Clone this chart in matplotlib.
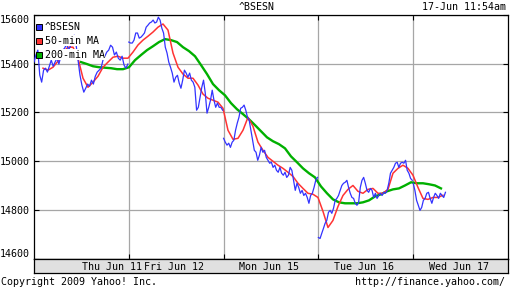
import numpy as np
import matplotlib
matplotlib.use('Agg')
import matplotlib.pyplot as plt
from matplotlib.patches import Rectangle

plt.rcParams['font.family'] = 'DejaVu Sans Mono'
plt.rcParams['font.size'] = 7.2

# trading days shown, x axis runs in "days" (0 = Thu open)
days = ["Thu Jun 11", "Fri Jun 12", "Mon Jun 15", "Tue Jun 16", "Wed Jun 17"]
day_label_pos = [0.82, 1.48, 2.48, 3.48, 4.48]
last_session_frac = 0.34   # 11:54am on Wed

# ^BSESN intraday, one list per session
bse_thu = [15406, 15435, 15455, 15353, 15324, 15373, 15381, 15365, 15389, 15414,
           15389, 15406, 15422, 15398, 15430, 15455, 15463, 15480, 15455, 15471,
           15496, 15516, 15475, 15414, 15353, 15312, 15283, 15299, 15316, 15307,
           15332, 15316, 15348, 15365, 15373, 15381, 15414, 15430, 15447, 15455,
           15475, 15467, 15435, 15447, 15422, 15414, 15430, 15394, 15381, 15398]
bse_fri = [15488, 15484, 15484, 15496, 15525, 15525, 15504, 15508, 15516, 15525,
           15549, 15557, 15566, 15570, 15578, 15566, 15570, 15590, 15578, 15545,
           15525, 15467, 15443, 15406, 15385, 15361, 15324, 15344, 15352, 15320,
           15299, 15332, 15373, 15361, 15344, 15361, 15332, 15324, 15303, 15209,
           15221, 15262, 15303, 15332, 15279, 15197, 15221, 15250, 15291, 15250,
           15221, 15238, 15221, 15221, 15209]
bse_mon = [15094, 15078, 15066, 15074, 15057, 15078, 15086, 15127, 15156, 15180,
           15217, 15221, 15230, 15209, 15180, 15168, 15127, 15086, 15045, 15037,
           15004, 15025, 15057, 15037, 15045, 15016, 15004, 14992, 14996, 14975,
           14984, 14963, 14955, 14975, 14951, 14943, 14955, 14934, 14943, 14975,
           14963, 14922, 14881, 14910, 14893, 14869, 14881, 14860, 14869, 14852,
           14828, 14860, 14869, 14893, 14922, 14934]
bse_tue = [14688, 14684, 14705, 14725, 14746, 14758, 14791, 14799, 14787, 14807,
           14840, 14848, 14860, 14881, 14901, 14910, 14914, 14922, 14893, 14869,
           14852, 14848, 14828, 14820, 14832, 14893, 14922, 14934, 14910, 14881,
           14873, 14889, 14881, 14852, 14869, 14848, 14860, 14869, 14860, 14873,
           14869, 14881, 14910, 14951, 14963, 14975, 14992, 14996, 14975, 14992,
           14996, 14992, 15004, 14963, 14951, 14930, 14922]
bse_wed = [14910, 14881, 14840, 14820, 14799, 14811, 14840, 14848, 14869, 14873,
           14848, 14828, 14852, 14869, 14860, 14848, 14869, 14860, 14852, 14873]
sessions = [bse_thu, bse_fri, bse_mon, bse_tue, bse_wed]

# 50-min moving average
ma50_span = (0.095, 4.314)
ma50 = [15381, 15373, 15385, 15410, 15447, 15467, 15467, 15422, 15340, 15303,
        15324, 15348, 15385, 15406, 15426, 15430, 15422, 15422, 15447, 15476,
        15496, 15512, 15529, 15549, 15562, 15537, 15443, 15385, 15357, 15340,
        15340, 15312, 15275, 15258, 15250, 15242, 15217, 15127, 15090, 15094,
        15127, 15180, 15143, 15078, 15045, 15016, 15000, 14984, 14971, 14955,
        14938, 14910, 14889, 14869, 14865, 14852, 14795, 14729, 14758, 14815,
        14860, 14885, 14901, 14877, 14869, 14885, 14889, 14869, 14869, 14885,
        14951, 14971, 14984, 14971, 14943, 14893, 14848, 14844, 14852, 14852,
        14861]

# 200-min moving average
ma200_span = (0.496, 4.293)
ma200 = [15406, 15398, 15389, 15385, 15383, 15381, 15377, 15377, 15385, 15414,
         15435, 15455, 15471, 15488, 15500, 15496, 15488, 15467, 15451, 15430,
         15394, 15357, 15316, 15291, 15270, 15238, 15213, 15193, 15172, 15148,
         15123, 15098, 15082, 15070, 15053, 15020, 14996, 14971, 14951, 14934,
         14897, 14869, 14844, 14832, 14828, 14828, 14828, 14832, 14840, 14856,
         14865, 14877, 14885, 14889, 14901, 14914, 14910, 14910, 14906, 14901,
         14889]

yticks = [14600, 14800, 15000, 15200, 15400, 15600]

c_blue = '#3333ff'
c_red = '#ff3333'
c_green = '#00b000'
c_grid = '#a6a6a6'

fig = plt.figure(figsize=(5.12, 2.88), dpi=100)
W, H = 512.0, 288.0
ax = fig.add_axes([34 / W, 1 - 259 / H, 474 / W, (259 - 14.7) / H])

ax.plot(np.linspace(ma200_span[0], ma200_span[1], len(ma200)), ma200,
        color=c_green, lw=1.7, zorder=2)
ax.plot(np.linspace(ma50_span[0], ma50_span[1], len(ma50)), ma50,
        color=c_red, lw=1.1, zorder=3)
for i, vals in enumerate(sessions):
    end = i + (last_session_frac if i == len(sessions) - 1 else 0.99)
    ax.plot(np.linspace(i, end, len(vals)), vals, color=c_blue, lw=0.9, zorder=4)

ax.set_xlim(0, 5)
ax.set_ylim(14600, 15600)
ax.set_xticks([1, 2, 3, 4])
ax.set_xticklabels([])
ax.set_yticks(yticks)
ax.set_yticklabels([str(v) for v in yticks])
labs = ax.get_yticklabels()
labs[0].set_va('bottom')
labs[-1].set_va('top')
ax.tick_params(direction='in', length=3.5, width=0.8, pad=3,
               left=True, right=True, top=True, bottom=True)
ax.grid(True, color=c_grid, lw=0.9)
ax.set_axisbelow(True)
for s in ax.spines.values():
    s.set_linewidth(0.9)

# legend: colour squares with white-backed text
leg = [("^BSESN", c_blue), ("50-min MA", c_red), ("200-min MA", c_green)]
for k, (name, col) in enumerate(leg):
    yy = 27 + k * 13.8
    fig.patches.append(Rectangle((36 / W, 1 - (yy + 3) / H), 6 / W, 6 / H,
                                 transform=fig.transFigure, facecolor=col,
                                 edgecolor='black', lw=0.7, zorder=10))
    fig.text(45 / W, 1 - yy / H, name, va='center', ha='left', zorder=10,
             bbox=dict(facecolor='white', edgecolor='none', pad=0.3))

# grey date band under the plot
band = fig.add_axes([34 / W, 1 - 273 / H, 474 / W, 14 / H])
band.set_facecolor('#e0e0e0')
band.set_xlim(0, 5)
band.set_ylim(0, 1)
band.set_xticks([])
band.set_yticks([])
for s in band.spines.values():
    s.set_linewidth(0.9)
for d, xpos in zip(days, day_label_pos):
    band.text(xpos, 0.45, d, ha='center', va='center')

fig.text(257 / W, 1 - 7 / H, "^BSESN", ha='center', va='center')
fig.text(506 / W, 1 - 7 / H, "17-Jun 11:54am", ha='right', va='center')
fig.text(1 / W, 1 - 282 / H, "Copyright 2009 Yahoo! Inc.", ha='left', va='center')
fig.text(505 / W, 1 - 282 / H, "http://finance.yahoo.com/", ha='right', va='center')

fig.savefig('out.png', dpi=100)
